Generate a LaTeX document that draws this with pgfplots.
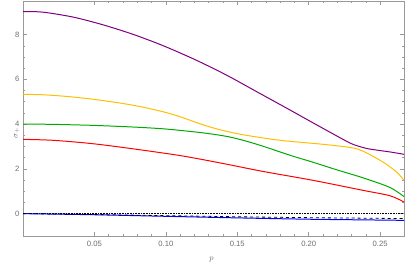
\documentclass[border=0pt]{standalone}
\usepackage{fontspec}
\setmainfont{Liberation Sans}
\usepackage{pgfplots}
\pgfplotsset{compat=1.18}
\definecolor{mpurple}{RGB}{128,0,128}
\definecolor{myellow}{RGB}{255,191,0}
\definecolor{mgreen}{RGB}{0,170,0}
\definecolor{mframe}{RGB}{153,153,153}
\definecolor{mtext}{RGB}{110,110,110}
\begin{document}
\begin{tikzpicture}
\begin{axis}[
  scale only axis,
  width=381bp, height=235bp,
  xmin=0, xmax=0.2667, ymin=-1, ymax=9.5,
  xtick={0.05,0.10,0.15,0.20,0.25},
  xticklabels={0.05,0.10,0.15,0.20,0.25},
  ytick={0,2,4,6,8},
  minor x tick num=4, minor y tick num=3,
  tick align=inside,
  major tick length=4bp, minor tick length=2bp,
  axis line style={mframe, line width=0.6pt},
  every tick/.style={mframe, line width=0.5pt},
  tick label style={font=\fontsize{7.7}{8}\selectfont, text=mtext},
  xticklabel style={yshift=-2bp},
  /pgf/number format/assume math mode=true,
  xlabel={$p$}, ylabel={$\sigma_+$},
  label style={font=\fontsize{8}{9}\selectfont, text=mtext},
  xlabel style={at={(axis description cs:0.495,0)}, anchor=north, yshift=-18bp},
  ylabel style={at={(axis description cs:0,0.51)}, anchor=south, xshift=-17bp},
  clip=true,
]
\addplot[mpurple, line width=1pt, smooth] coordinates {
(0.0,9.03)(0.0141,9.00)(0.0352,8.78)(0.0563,8.43)(0.0775,8.00)(0.0986,7.49)
(0.1218,6.84)(0.143,6.17)(0.1641,5.43)(0.1852,4.69)(0.2063,3.94)(0.2275,3.20)
(0.2345,3.02)(0.2415,2.90)(0.2486,2.83)(0.2575,2.75)(0.2667,2.65)};
\addplot[myellow, line width=1pt, smooth] coordinates {
(0.0,5.33)(0.0141,5.31)(0.03,5.24)(0.0425,5.16)(0.0549,5.06)(0.069,4.93)
(0.0831,4.77)(0.1,4.52)(0.1113,4.30)(0.1218,4.06)(0.132,3.85)(0.143,3.67)
(0.1536,3.53)(0.1641,3.42)(0.1746,3.32)(0.1852,3.24)(0.1958,3.18)(0.2063,3.12)
(0.217,3.05)(0.2275,2.97)(0.2345,2.88)(0.2415,2.68)(0.2521,2.30)(0.2615,1.86)(0.2667,1.49)};
\addplot[mgreen, line width=1pt, smooth] coordinates {
(0.0,4.00)(0.02,3.99)(0.04,3.96)(0.0549,3.93)(0.08,3.86)(0.1,3.78)(0.1218,3.64)
(0.135,3.53)(0.145,3.42)(0.155,3.26)(0.1676,3.02)(0.1873,2.60)(0.2028,2.30)
(0.22,1.95)(0.238,1.60)(0.2568,1.17)(0.2667,0.76)};
\addplot[red, line width=1pt, smooth] coordinates {
(0.0,3.32)(0.02,3.28)(0.04,3.18)(0.0549,3.08)(0.08,2.87)(0.1113,2.58)(0.14,2.24)
(0.1676,1.89)(0.2028,1.49)(0.238,1.04)(0.2568,0.80)(0.2667,0.52)};
\addplot[black, densely dotted, line width=0.6pt] coordinates {(0,0)(0.2667,0)};
\addplot[blue, line width=1pt, smooth] coordinates {
(0,0)(0.05,-0.05)(0.1,-0.12)(0.15,-0.19)(0.2,-0.25)(0.24,-0.28)(0.2667,-0.30)};
\addplot[black, dashed, line width=0.8pt, smooth] coordinates {
(0,0)(0.05,-0.04)(0.1,-0.09)(0.15,-0.14)(0.2,-0.18)(0.2667,-0.22)};
\end{axis}
\pgfresetboundingbox
\path[use as bounding box] ([shift={(-23bp,-29bp)}]current axis.south west) rectangle ([shift={(1bp,1bp)}]current axis.north east);
\end{tikzpicture}
\end{document}
